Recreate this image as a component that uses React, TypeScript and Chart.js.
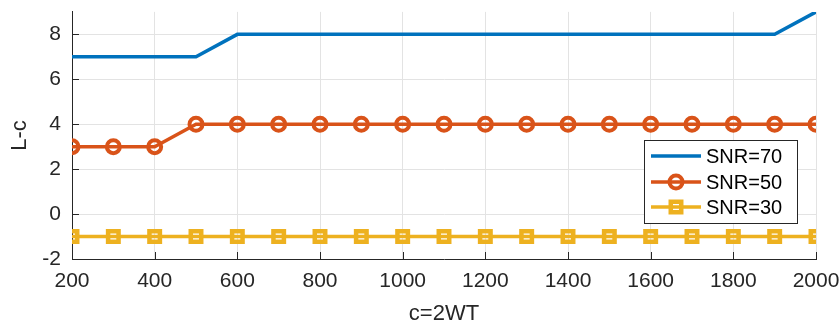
import React, { useEffect, useRef } from "react";
import { Chart, registerables } from "chart.js";

Chart.register(...registerables);

const xValues = [200, 300, 400, 500, 600, 700, 800, 900, 1000, 1100, 1200, 1300, 1400, 1500, 1600, 1700, 1800, 1900, 2000];
const snr70 = [7, 7, 7, 7, 8, 8, 8, 8, 8, 8, 8, 8, 8, 8, 8, 8, 8, 8, 9];
const snr50 = [3, 3, 3, 4, 4, 4, 4, 4, 4, 4, 4, 4, 4, 4, 4, 4, 4, 4, 4];
const snr30 = [-1, -1, -1, -1, -1, -1, -1, -1, -1, -1, -1, -1, -1, -1, -1, -1, -1, -1, -1];
const seriesLabels = ["SNR=70", "SNR=50", "SNR=30"];
const xTicks = [200, 400, 600, 800, 1000, 1200, 1400, 1600, 1800, 2000];
const yTicks = [-2, 0, 2, 4, 6, 8];
const xTitle = "c=2WT";
const yTitle = "L-c";

const FONT = "'Liberation Sans', Arial, Helvetica, sans-serif";
const AX = "#262626";

const legendPlugin = {
  id: "innerLegend",
  afterDraw(chart: any) {
    const ctx = chart.ctx;
    const x0 = 644, y0 = 140, w = 153, h = 83;
    ctx.save();
    ctx.fillStyle = "#ffffff";
    ctx.fillRect(x0, y0, w, h);
    ctx.strokeStyle = AX;
    ctx.lineWidth = 1;
    ctx.strokeRect(x0 + 0.5, y0 + 0.5, w, h);
    const rows = [156, 182, 207];
    chart.data.datasets.forEach((ds: any, i: number) => {
      const y = rows[i];
      ctx.strokeStyle = ds.borderColor;
      ctx.lineWidth = ds.borderWidth;
      ctx.beginPath();
      ctx.moveTo(651, y);
      ctx.lineTo(701, y);
      ctx.stroke();
      if (ds.pointRadius > 0) {
        ctx.lineWidth = ds.pointBorderWidth;
        ctx.beginPath();
        if (ds.pointStyle === "circle") {
          ctx.arc(676, y, ds.pointRadius, 0, Math.PI * 2);
        } else {
          const s = ds.pointRadius * Math.SQRT1_2;
          ctx.rect(676 - s, y - s, 2 * s, 2 * s);
        }
        ctx.stroke();
      }
      ctx.fillStyle = "#000000";
      ctx.font = `20px ${FONT}`;
      ctx.textBaseline = "middle";
      ctx.textAlign = "left";
      ctx.fillText(ds.label, 706, y + 1);
    });
    ctx.restore();
  },
};

const tickPlugin = {
  id: "innerTicks",
  afterDatasetsDraw(chart: any) {
    const ctx = chart.ctx;
    const { x, y } = chart.scales;
    const area = chart.chartArea;
    ctx.save();
    ctx.strokeStyle = AX;
    ctx.lineWidth = 1;
    ctx.beginPath();
    xTicks.forEach((v) => {
      const px = Math.round(x.getPixelForValue(v)) + 0.5;
      ctx.moveTo(px, area.bottom);
      ctx.lineTo(px, area.bottom - 7);
    });
    yTicks.forEach((v) => {
      const py = Math.round(y.getPixelForValue(v)) + 0.5;
      ctx.moveTo(area.left, py);
      ctx.lineTo(area.left + 7, py);
    });
    ctx.stroke();
    ctx.restore();
  },
};

export default function App() {
  const ref = useRef<HTMLCanvasElement>(null);
  useEffect(() => {
    document.body.style.margin = "0";
    const mk = (arr: number[]) => arr.map((v, i) => ({ x: xValues[i], y: v }));
    const chart = new Chart(ref.current as HTMLCanvasElement, {
      type: "line",
      data: {
        datasets: [
          {
            label: seriesLabels[0],
            data: mk(snr70),
            borderColor: "#0072BD",
            borderWidth: 3.5,
            pointRadius: 0,
            pointStyle: "circle",
            pointBorderWidth: 0,
          },
          {
            label: seriesLabels[1],
            data: mk(snr50),
            borderColor: "#D95319",
            borderWidth: 3.5,
            pointRadius: 6.5,
            pointStyle: "circle",
            pointBorderWidth: 4,
            pointBorderColor: "#D95319",
            pointBackgroundColor: "rgba(0,0,0,0)",
          },
          {
            label: seriesLabels[2],
            data: mk(snr30),
            borderColor: "#EDB120",
            borderWidth: 3.5,
            pointRadius: 7.4,
            pointStyle: "rect",
            pointBorderWidth: 4.5,
            pointBorderColor: "#EDB120",
            pointBackgroundColor: "rgba(0,0,0,0)",
          },
        ] as any,
      },
      options: {
        responsive: false,
        animation: false,
        layout: { padding: { top: 11, right: 24, left: 0, bottom: 0 } },
        plugins: { legend: { display: false }, tooltip: { enabled: false } },
        scales: {
          x: {
            type: "linear",
            min: 200,
            max: 2000,
            afterBuildTicks: (s: any) => {
              s.ticks = xTicks.map((v) => ({ value: v }));
            },
            afterFit: (s: any) => {
              s.height = 70;
              s.paddingLeft = 0;
              s.paddingRight = 0;
            },
            ticks: { color: AX, font: { family: FONT, size: 21 }, padding: 10, maxRotation: 0, callback: (v: any) => String(v) },
            grid: { color: "#e3e3e3", drawTicks: false, lineWidth: 1 },
            border: { color: AX, width: 1 },
            title: { display: true, text: xTitle, color: AX, font: { family: FONT, size: 22 }, padding: { top: 2, bottom: 2 } },
          },
          y: {
            type: "linear",
            min: -2,
            max: 9,
            afterBuildTicks: (s: any) => {
              s.ticks = yTicks.map((v) => ({ value: v }));
            },
            afterFit: (s: any) => {
              s.width = 72;
              s.paddingTop = 0;
              s.paddingBottom = 0;
            },
            ticks: { color: AX, font: { family: FONT, size: 21 }, padding: 11, callback: (v: any) => String(v) },
            grid: { color: "#e3e3e3", drawTicks: false, lineWidth: 1 },
            border: { color: AX, width: 1 },
            title: { display: true, text: yTitle, color: AX, font: { family: FONT, size: 22 }, padding: { top: 7, bottom: 0 } },
          },
        },
      },
      plugins: [tickPlugin, legendPlugin],
    });
    return () => chart.destroy();
  }, []);
  return <canvas ref={ref} width={840} height={329} style={{ display: "block" }} />;
}
